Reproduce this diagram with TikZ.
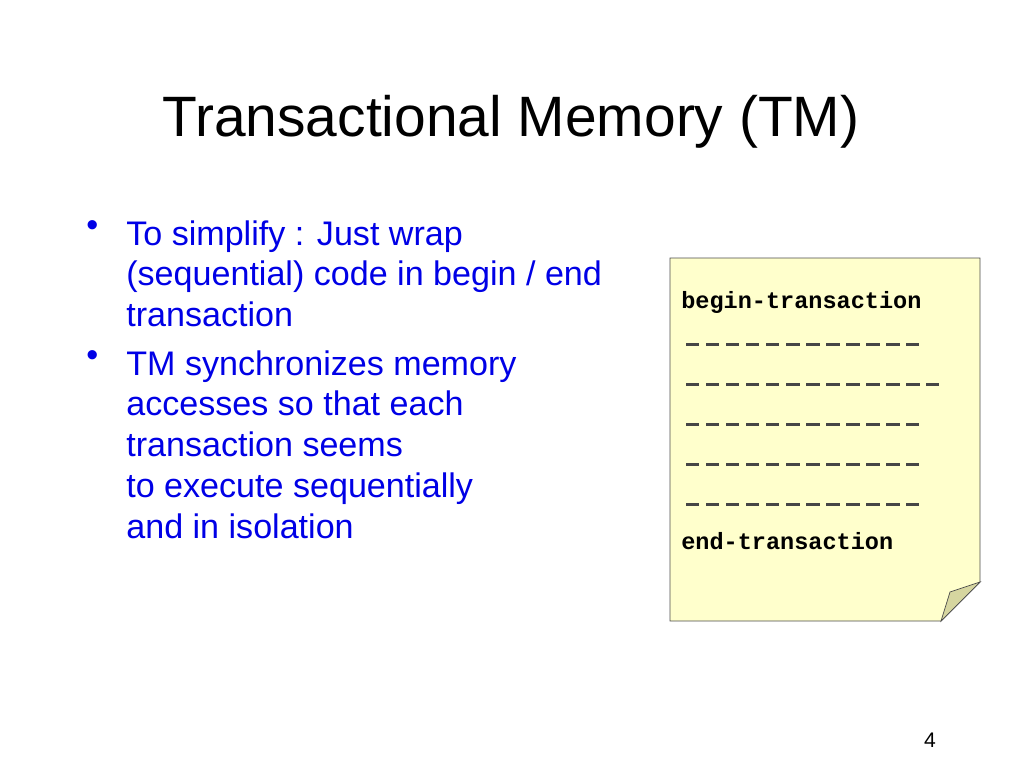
\documentclass[tikz,border=0pt]{standalone}
\usepackage{fontspec}
\setmainfont{Liberation Sans}
\newfontfamily\codefont{Liberation Mono}
\definecolor{notefill}{RGB}{255,255,204}
\definecolor{foldfill}{RGB}{214,214,160}
\definecolor{bulletblue}{RGB}{0,0,230}
\definecolor{dashgray}{RGB}{70,70,70}
\begin{document}
\begin{tikzpicture}[x=0.02cm,y=-0.02cm,
  bullettext/.style={anchor=north west,inner sep=0,align=left,text=bulletblue,
    font=\fontsize{19.4}{23.3}\selectfont},
  code/.style={anchor=west,inner sep=0,font=\codefont\bfseries\fontsize{13.4}{16}\selectfont},
  dashline/.style={draw=dashgray,line width=1.7pt,dash pattern=on 7.6pt off 3.8pt}]
\useasboundingbox (0,0) rectangle (1024,768);
\node (title) at (511,122) {\fontsize{32.4}{36}\selectfont Transactional Memory (TM)};
% bullets
\node[bullettext] (dotA) at (86,220) {•};
\node[bullettext] (simplify) at (126,220) {To simplify : Just wrap\\(sequential) code in begin / end\\transaction};
\node[bullettext] (dotB) at (86,350) {•};
\node[bullettext] (sync) at (126,350) {TM synchronizes memory\\accesses so that each\\transaction seems\\to execute sequentially\\and in isolation};
% note
\draw[fill=notefill,draw=black!70] (670,258) -- (980,258) -- (980,582) -- (941,621) -- (670,621) -- cycle;
\draw[fill=foldfill,draw=black!70] (941,621) -- (950,592) -- (980,582) -- cycle;
\node[code] (begin) at (681,302) {begin-transaction};
\foreach \y/\n in {344/12,384/13,424/12,464/12,504/12}
  \draw[dashline] (686,\y) -- ++(\n*20-7,0);
\node[code] (end) at (681,541) {end-transaction};
\node (page) at (930,740) {\fontsize{12}{14}\selectfont 4};
\end{tikzpicture}
\end{document}
